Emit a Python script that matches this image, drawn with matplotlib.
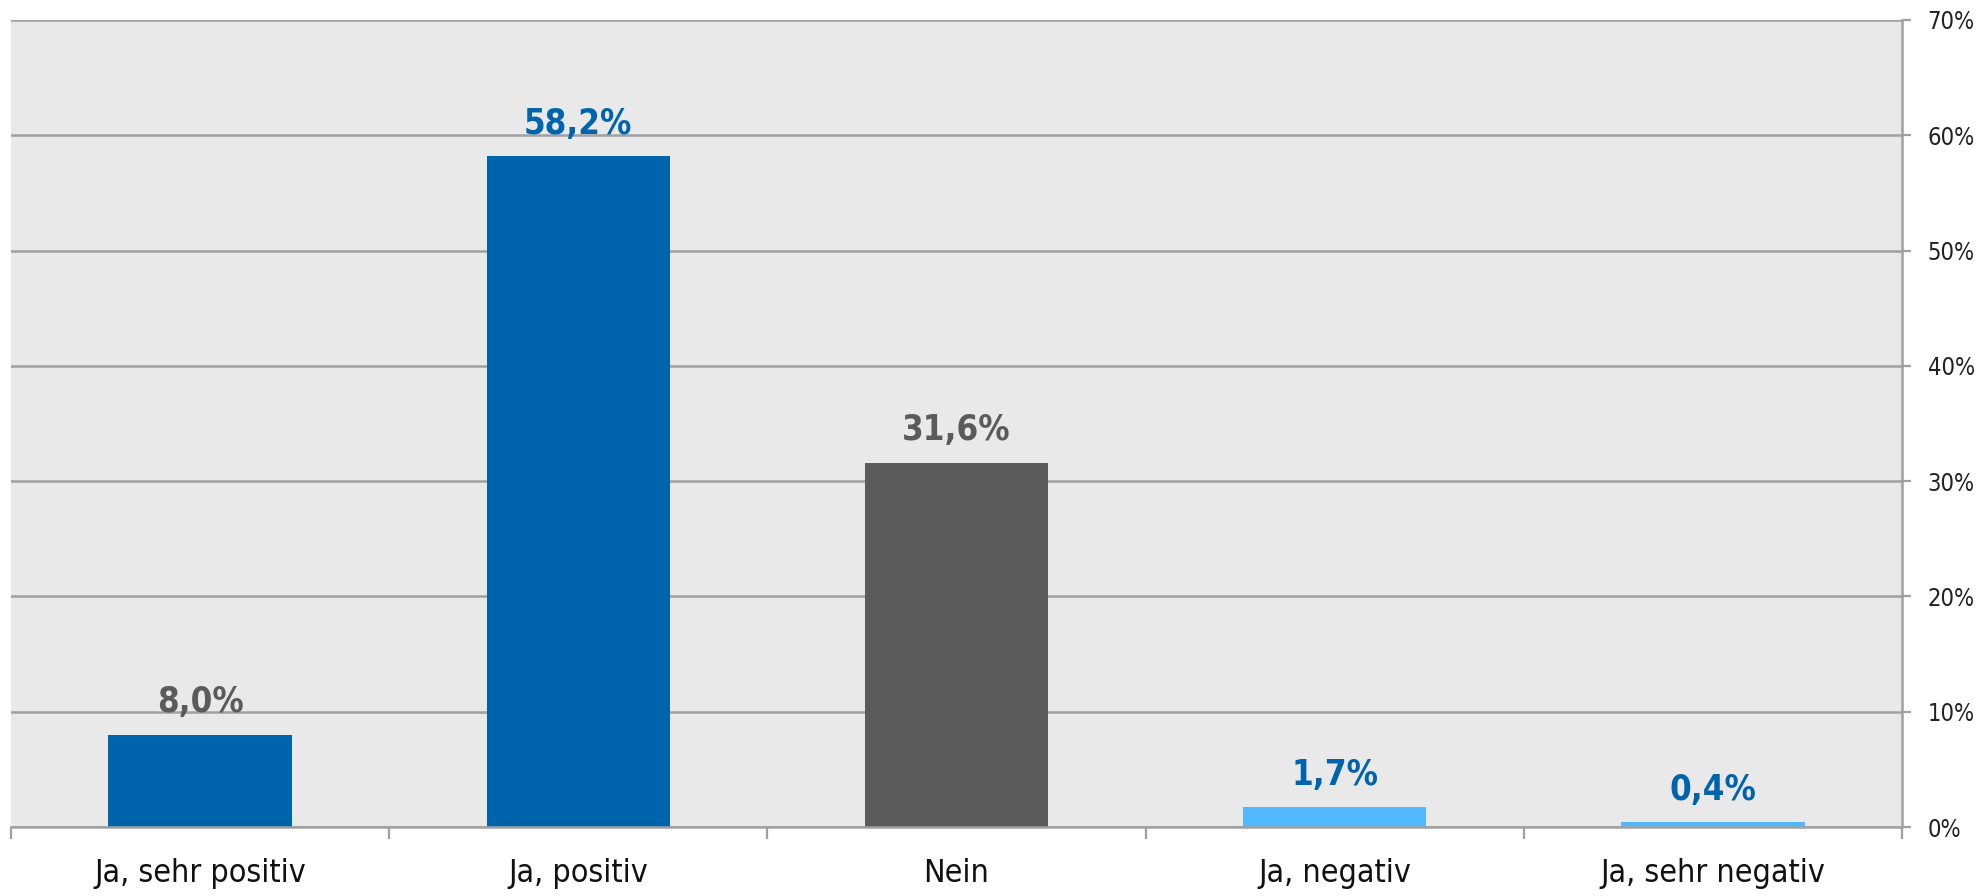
import matplotlib
matplotlib.use("Agg")
import matplotlib.pyplot as plt
from matplotlib.ticker import FixedLocator, NullFormatter
from matplotlib import font_manager

categories = ["Ja, sehr positiv", "Ja, positiv", "Nein", "Ja, negativ", "Ja, sehr negativ"]
values = [8.0, 58.2, 31.6, 1.7, 0.4]
value_labels = ["8,0%", "58,2%", "31,6%", "1,7%", "0,4%"]
bar_colors = ["#0064AC", "#0064AC", "#5B5B5B", "#52B8FF", "#52B8FF"]
label_colors = ["#5B5B5B", "#0064AC", "#5B5B5B", "#0064AC", "#0064AC"]
yticks = [0, 10, 20, 30, 40, 50, 60, 70]
ytick_labels = ["0%", "10%", "20%", "30%", "40%", "50%", "60%", "70%"]

names = {f.name for f in font_manager.fontManager.ttflist}
fam = "Liberation Sans Narrow" if "Liberation Sans Narrow" in names else "DejaVu Sans"
plt.rcParams["font.family"] = [fam, "DejaVu Sans"]
plt.rcParams["font.stretch"] = "condensed"

W, H = 1977, 896
fig = plt.figure(figsize=(W / 100, H / 100), dpi=100)
ax = fig.add_axes([11 / W, 1 - 827 / H, (1902 - 11) / W, (827 - 20) / H])
ax.set_facecolor("#E9E9E9")

x = list(range(len(categories)))
ax.bar(x, values, width=0.485, color=bar_colors, zorder=3)
for xi, v, lab, c in zip(x, values, value_labels, label_colors):
    ax.annotate(lab, (xi, v), xytext=(0, 11), textcoords="offset points",
                ha="center", va="bottom", fontsize=25, fontweight="bold",
                fontstretch="condensed", color=c, zorder=4)

ax.set_xlim(-0.5, len(categories) - 0.5)
ax.set_ylim(0, 70)
ax.yaxis.tick_right()
ax.set_yticks(yticks)
ax.set_yticklabels(ytick_labels, fontsize=17, color="#222222", fontstretch="condensed")
ax.tick_params(axis="y", direction="out", length=6.5, width=1.6, color="#A0A0A0", pad=12)
ax.grid(axis="y", color="#A0A0A0", linewidth=1.8, zorder=1)

ax.set_xticks(x)
ax.set_xticklabels(categories, fontsize=23, color="#111111", fontstretch="condensed")
ax.tick_params(axis="x", which="major", length=0, pad=22)
ax.xaxis.set_minor_locator(FixedLocator([i - 0.5 for i in range(len(categories) + 1)]))
ax.xaxis.set_minor_formatter(NullFormatter())
ax.tick_params(axis="x", which="minor", direction="out", length=8.5, width=1.6, color="#A0A0A0")

for s in ["top", "left"]:
    ax.spines[s].set_visible(False)
for s in ["bottom", "right"]:
    ax.spines[s].set_color("#A0A0A0")
    ax.spines[s].set_linewidth(1.8)
    ax.spines[s].set_zorder(5)

fig.savefig("out.png", dpi=100, facecolor="white")
